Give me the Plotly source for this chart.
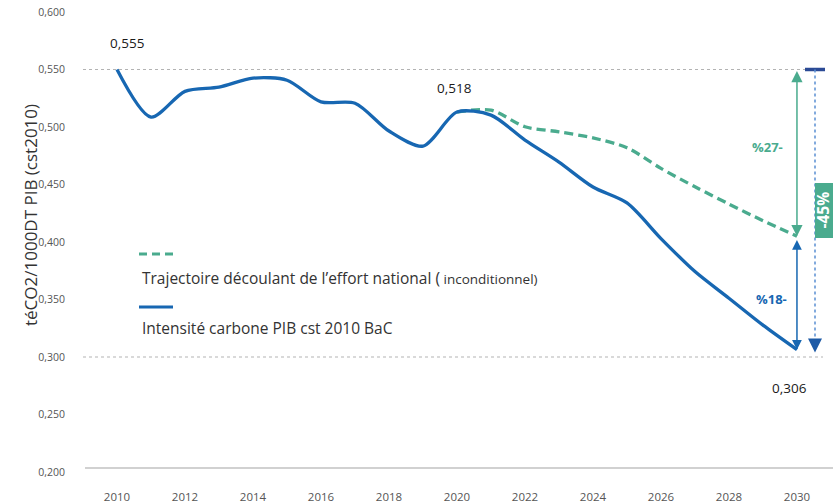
import plotly.graph_objects as go

# ---------------- data ----------------
years = list(range(2010, 2031))
intensity_bac = [0.550, 0.5086, 0.531, 0.5346, 0.5425, 0.5407, 0.5219, 0.5207, 0.4965, 0.4834,
                 0.513, 0.5103, 0.4886, 0.4695, 0.4478, 0.434, 0.403, 0.3743, 0.3511, 0.3277, 0.3064]
effort_years = list(range(2020, 2031))
effort_national = [0.513, 0.5147, 0.5002, 0.4958, 0.4905, 0.482, 0.464, 0.448, 0.433, 0.4185, 0.405]

x_ticks = list(range(2010, 2031, 2))
y_ticks = [0.20, 0.25, 0.30, 0.35, 0.40, 0.45, 0.50, 0.55, 0.60]
reference_levels = [0.55, 0.30]
value_labels = ["0,555", "0,518", "0,306"]
reduction_labels = ["%27-", "%18-", "-45%"]
series_names = ["Trajectoire découlant de l’effort national (",
                " inconditionnel)",
                "Intensité carbone PIB cst 2010 BaC"]
axis_title = "téCO2/1000DT PIB (cst2010)"

# ---------------- style ----------------
BLUE = "#1767b2"
GREEN = "#4aab8e"
NAVY = "#2b4a95"
DOT_BLUE = "#5a8fd2"
GREY_DOT = "#b3b3b3"
FONT = "Open Sans"

W, H = 833, 504
ML, MR, MT, MB = 83, 0, 12, 32
PW, PH = W - ML - MR, H - MT - MB


def px(xpix):
    return (xpix - ML) / PW


def py(ypix):
    return (H - MB - ypix) / PH


fig = go.Figure()
fig.add_trace(go.Scatter(
    x=effort_years, y=effort_national, mode="lines", hoverinfo="skip",
    line=dict(color=GREEN, width=3.3, dash="9px,5px", shape="spline", smoothing=0.8)))
fig.add_trace(go.Scatter(
    x=years, y=intensity_bac, mode="lines", hoverinfo="skip",
    line=dict(color=BLUE, width=3.3, shape="spline", smoothing=0.8)))

shapes = []
for lvl in reference_levels:
    shapes.append(dict(type="line", xref="paper", yref="y", x0=0, x1=px(823), y0=lvl, y1=lvl,
                       line=dict(color=GREY_DOT, width=1.2, dash="dot")))
# baseline
shapes.append(dict(type="line", xref="paper", yref="paper", x0=px(85), x1=1, y0=py(468), y1=py(468),
                   line=dict(color="#c2c2c2", width=1.5)))
# navy bar at start level
shapes.append(dict(type="line", xref="paper", yref="y", x0=px(805), x1=px(825),
                   y0=reference_levels[0], y1=reference_levels[0], line=dict(color=NAVY, width=3.5)))
# blue dotted vertical
shapes.append(dict(type="line", xref="paper", yref="y", x0=px(815), x1=px(815),
                   y0=reference_levels[0], y1=reference_levels[1] + 0.01,
                   line=dict(color=DOT_BLUE, width=1.5, dash="dot")))
# green box behind the -45% label
shapes.append(dict(type="rect", xref="paper", yref="paper", x0=px(815), x1=px(833.5),
                   y0=py(238), y1=py(183), line=dict(width=0), fillcolor=GREEN))
# legend samples
shapes.append(dict(type="line", xref="paper", yref="paper", x0=px(139), x1=px(173), y0=py(254), y1=py(254),
                   line=dict(color=GREEN, width=3, dash="8px,5px")))
shapes.append(dict(type="line", xref="paper", yref="paper", x0=px(139), x1=px(173), y0=py(307), y1=py(307),
                   line=dict(color=BLUE, width=3)))

ann = []
# value labels
lab_font = dict(family=FONT, size=13.5, color="#1a1a1a")
ann.append(dict(x=years[0], y=intensity_bac[0], xref="x", yref="y", text=value_labels[0],
                showarrow=False, xshift=10, yshift=27, font=lab_font))
ann.append(dict(x=2020, y=intensity_bac[10], xref="x", yref="y", text=value_labels[1],
                showarrow=False, xshift=-2, yshift=24, font=lab_font))
ann.append(dict(x=years[-1], y=intensity_bac[-1], xref="x", yref="y", text=value_labels[2],
                showarrow=False, xshift=-7, yshift=-38, font=lab_font))

# green double arrow
ann.append(dict(x=years[-1], y=effort_national[-1], ax=years[-1], ay=reference_levels[0],
                xref="x", yref="y", axref="x", ayref="y", showarrow=True, text="",
                arrowhead=2, startarrowhead=2, arrowside="end+start", arrowsize=1.5, startarrowsize=1.5,
                arrowwidth=1.5, arrowcolor=GREEN, standoff=0, startstandoff=0))
# blue double arrow
ann.append(dict(x=years[-1], y=intensity_bac[-1], ax=years[-1], ay=effort_national[-1] - 0.002,
                xref="x", yref="y", axref="x", ayref="y", showarrow=True, text="",
                arrowhead=2, startarrowhead=2, arrowside="end+start", arrowsize=1.3, startarrowsize=1.3,
                arrowwidth=1.5, arrowcolor=BLUE, standoff=0, startstandoff=0))
# dotted-arrow head
ann.append(dict(x=px(815), y=reference_levels[1] + 0.004, xref="paper", yref="y", ax=0, ay=-10,
                showarrow=True, text="", arrowhead=2, arrowsize=1.4, arrowwidth=2,
                arrowcolor="#1d5aa6", standoff=0))

# reduction labels
ann.append(dict(x=years[-1], y=(reference_levels[0] + effort_national[-1]) / 2, xref="x", yref="y",
                text="<b>%s</b>" % reduction_labels[0], showarrow=False, xshift=-29, yshift=6,
                font=dict(family=FONT, size=13, color=GREEN)))
ann.append(dict(x=years[-1], y=(effort_national[-1] + intensity_bac[-1]) / 2, xref="x", yref="y",
                text="<b>%s</b>" % reduction_labels[1], showarrow=False, xshift=-25, yshift=-6,
                font=dict(family=FONT, size=13, color=BLUE)))
ann.append(dict(x=px(822), y=py(210.5), xref="paper", yref="paper",
                xanchor="center", yanchor="middle", text="<b>%s</b>" % reduction_labels[2],
                showarrow=False, textangle=-90,
                font=dict(family=FONT, size=15.5, color="white")))

# legend texts
leg_font = dict(family=FONT, size=15.5, color="#333333")
ann.append(dict(x=px(140), y=py(278), xref="paper", yref="paper", xanchor="left", yanchor="middle",
                showarrow=False, font=leg_font,
                text=series_names[0] + "<span style='font-size:13.5px'>" + series_names[1] + "</span>"))
ann.append(dict(x=px(140), y=py(328), xref="paper", yref="paper", xanchor="left", yanchor="middle",
                showarrow=False, font=leg_font, text=series_names[2]))

# y axis title
ann.append(dict(x=px(30), y=py(215), xref="paper", yref="paper", xanchor="center", yanchor="middle",
                showarrow=False, textangle=-90, text=axis_title,
                font=dict(family=FONT, size=17, color="#333333")))

fig.update_layout(
    width=W, height=H, margin=dict(l=ML, r=MR, t=MT, b=MB),
    paper_bgcolor="white", plot_bgcolor="white", showlegend=False,
    separators=", ",
    font=dict(family=FONT),
    shapes=shapes, annotations=ann,
    xaxis=dict(range=[2009, 2031.06], tickvals=x_ticks, showgrid=False, zeroline=False,
               showline=False, ticks="", ticklabelstandoff=16,
               tickfont=dict(family=FONT, size=11.5, color="#555555")),
    yaxis=dict(range=[0.2, 0.6], tickvals=y_ticks, tickformat=".3f", showgrid=False,
               zeroline=False, showline=False, ticks="", ticklabelstandoff=17,
               tickfont=dict(family=FONT, size=10.5, color="#555555")),
)

fig.write_html("out.html", config={"displayModeBar": False},
               post_script="document.body.style.margin='0px';")
